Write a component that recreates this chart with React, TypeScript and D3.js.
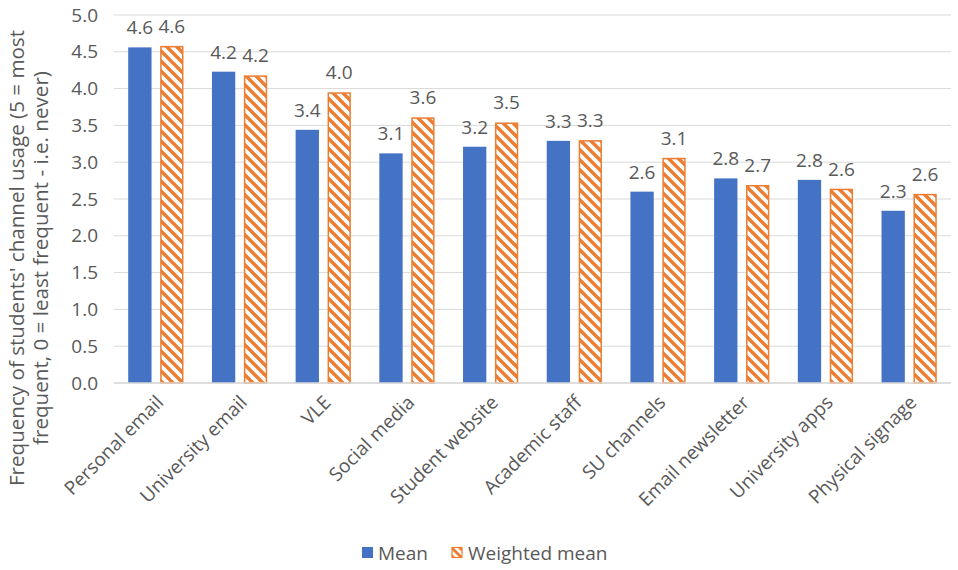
import React from "react";
import * as d3 from "d3";

const categories = [
  "Personal email",
  "University email",
  "VLE",
  "Social media",
  "Student website",
  "Academic staff",
  "SU channels",
  "Email newsletter",
  "University apps",
  "Physical signage",
];
const meanValues = [4.56, 4.23, 3.44, 3.12, 3.21, 3.29, 2.6, 2.78, 2.76, 2.34];
const weightedValues = [4.58, 4.18, 3.95, 3.61, 3.54, 3.3, 3.06, 2.69, 2.64, 2.57];
const yTicks = [0, 0.5, 1, 1.5, 2, 2.5, 3, 3.5, 4, 4.5, 5];
const seriesNames = ["Mean", "Weighted mean"];

const W = 958;
const H = 570;
const FONT = "'Open Sans', sans-serif";
const TXT = "#595959";
const BLUE = "#4472C4";
const ORANGE = "#ED7D31";
const GRID = "#D9D9D9";
const FS = 19;

export default function App() {
  const x0 = 114;
  const x1 = 951;
  const y = d3.scaleLinear().domain([0, 5]).range([383, 15]);
  const xb = d3.scaleBand<string>().domain(categories).range([x0, x1]).paddingInner(0.34).paddingOuter(0.17);
  const xs = d3.scaleBand<string>().domain(seriesNames).range([0, xb.bandwidth()]).paddingInner(0.27);

  return (
    <svg width={W} height={H} style={{ position: "absolute", left: 0, top: 0, background: "#fff" }}>
      <defs>
        <pattern id="hatch" patternUnits="userSpaceOnUse" width={10} height={10}>
          <rect width={10} height={10} fill="#fff" />
          <path d="M-3,-3 L13,13 M-3,7 L3,13 M7,-3 L13,3" stroke={ORANGE} strokeWidth={3.4} />
        </pattern>
        <pattern id="hatchSmall" patternUnits="userSpaceOnUse" width={8} height={8}>
          <rect width={8} height={8} fill="#fff" />
          <path d="M-2,-2 L10,10 M-2,6 L2,10 M6,-2 L10,2" stroke={ORANGE} strokeWidth={2.8} />
        </pattern>
      </defs>
      {yTicks.map((t) => (
        <g key={t}>
          <line x1={x0} x2={x1} y1={y(t)} y2={y(t)} stroke={GRID} strokeWidth={1} />
          <text x={98} y={y(t)} dy="0.35em" textAnchor="end" fontFamily={FONT} fontSize={FS} fill={TXT}>
            {t.toFixed(1)}
          </text>
        </g>
      ))}
      {categories.map((c, i) => {
        const bx = xb(c)!;
        const mx = bx + xs("Mean")!;
        const wx = bx + xs("Weighted mean")!;
        const bw = xs.bandwidth();
        const cx = bx + xb.bandwidth() / 2;
        return (
          <g key={c}>
            <rect x={mx} y={y(meanValues[i])} width={bw} height={y(0) - y(meanValues[i])} fill={BLUE} />
            <rect
              x={wx + 0.75}
              y={y(weightedValues[i]) + 0.75}
              width={bw - 1.5}
              height={y(0) - y(weightedValues[i]) - 0.75}
              fill="url(#hatch)"
              stroke={ORANGE}
              strokeWidth={1.5}
            />
            <text x={mx + bw / 2} y={y(meanValues[i]) - 13} textAnchor="middle" fontFamily={FONT} fontSize={FS} fill={TXT}>
              {meanValues[i].toFixed(1)}
            </text>
            <text x={wx + bw / 2} y={y(weightedValues[i]) - 13} textAnchor="middle" fontFamily={FONT} fontSize={FS} fill={TXT}>
              {weightedValues[i].toFixed(1)}
            </text>
            <text
              transform={`translate(${cx + 4},${399}) rotate(-45)`}
              textAnchor="end"
              dy="0.35em"
              fontFamily={FONT}
              fontSize={FS}
              fill={TXT}
            >
              {c}
            </text>
          </g>
        );
      })}
      <line x1={x0} x2={x1} y1={y(0)} y2={y(0)} stroke={GRID} strokeWidth={1.5} />
      <g transform="translate(30,258) rotate(-90)">
        <text x={0} y={-6} textAnchor="middle" fontFamily={FONT} fontSize={20.6} fill={TXT}>
          Frequency of students' channel usage (5 = most
        </text>
        <text x={0} y={18} textAnchor="middle" fontFamily={FONT} fontSize={20.6} fill={TXT}>
          frequent, 0 = least frequent - i.e. never)
        </text>
      </g>
      <g>
        <rect x={362} y={547} width={11} height={11} fill={BLUE} />
        <text x={378} y={560} fontFamily={FONT} fontSize={FS} fill={TXT}>
          {seriesNames[0]}
        </text>
        <rect x={452} y={547.5} width={10} height={10} fill="url(#hatchSmall)" stroke={ORANGE} strokeWidth={1.2} />
        <text x={468} y={560} fontFamily={FONT} fontSize={FS} fill={TXT}>
          {seriesNames[1]}
        </text>
      </g>
    </svg>
  );
}
